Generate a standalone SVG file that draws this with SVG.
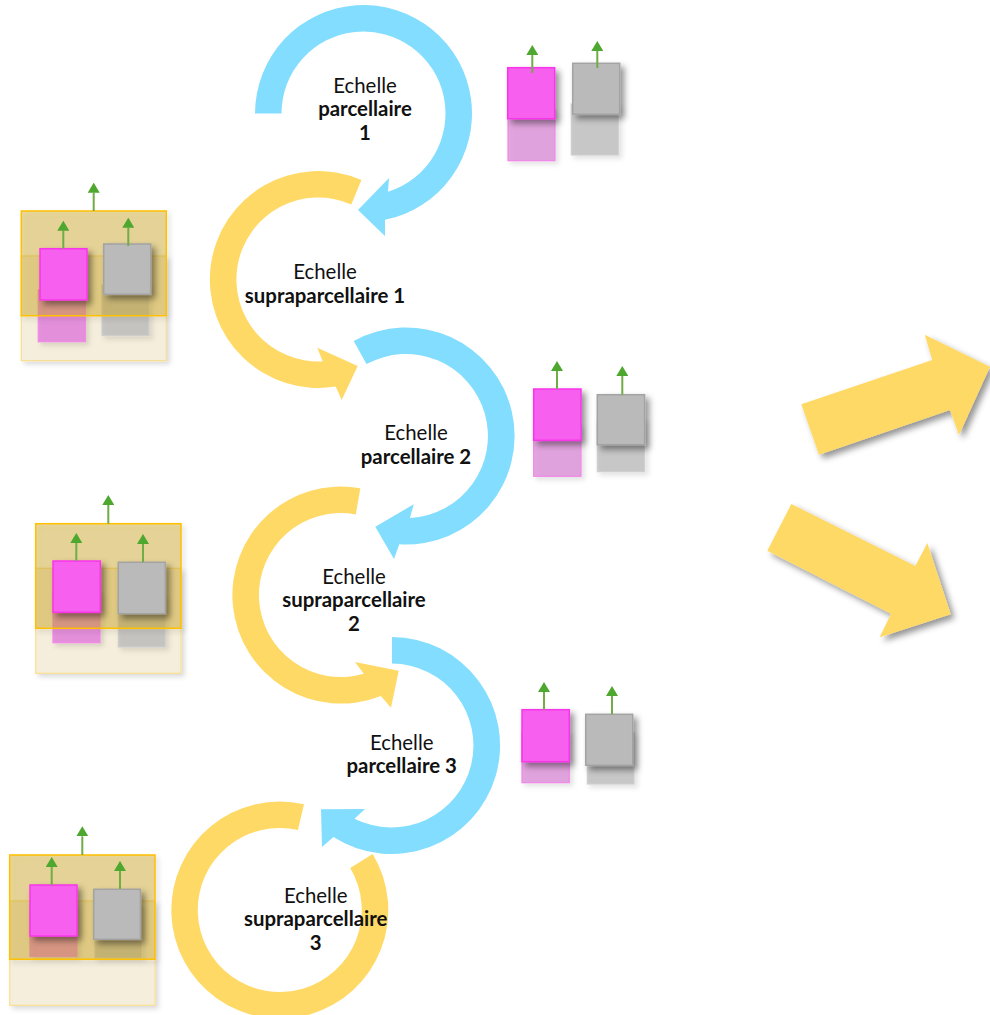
<svg xmlns="http://www.w3.org/2000/svg" width="990" height="1015" viewBox="0 0 990 1015">
<style>
.blue{fill:#83DDFF}
.yellow{fill:#FFD966}
.big-arrow{fill:#FFD966;filter:url(#sh)}
.m{fill:#F75FEE;stroke:#F935EA;stroke-width:1.5;filter:url(#sh)}
.g{fill:#BABABA;stroke:#A3A3A3;stroke-width:1.5;filter:url(#sh)}
.mf{fill:#DB8AD5;fill-opacity:.75;stroke:#F285E8;stroke-width:1.2;filter:url(#shf)}
.mp{fill:#E384DC;fill-opacity:.88;stroke:#F285E8;stroke-width:1.2;filter:url(#shf)}
.gf{fill:#BABABA;fill-opacity:.75;stroke:#CFCFCF;stroke-width:1.2;filter:url(#shf)}
.t{fill:#CAA218;fill-opacity:.42;stroke:#FFC000;stroke-width:1.5;filter:url(#shf)}
.tf{fill:#F5EEDC;stroke:#F9DF90;stroke-width:1.2;filter:url(#shf)}
.up{stroke:#70AD47;stroke-width:2;fill:none;marker-end:url(#head)}
text{font-family:"Lato","Open Sans","Liberation Sans",sans-serif;font-size:20.4px;fill:#111;text-anchor:middle}
.b{font-weight:700}
</style>
<defs>
<filter id="sh" x="-20%" y="-20%" width="150%" height="150%"><feDropShadow dx="4" dy="4" stdDeviation="3" flood-color="#000" flood-opacity=".42"/></filter>
<filter id="shf" x="-20%" y="-20%" width="150%" height="150%"><feDropShadow dx="3" dy="3" stdDeviation="2.5" flood-color="#000" flood-opacity=".14"/></filter>
<marker id="head" markerUnits="userSpaceOnUse" markerWidth="10" markerHeight="12" refX="0" refY="6" orient="auto" viewBox="0 0 10 12"><path d="M0,0L10,6L0,12Z" fill="#4EA72E"/></marker>
</defs>

<g id="arrow-right-up"><path class="big-arrow" d="M801.3,404.3L932.3,360L924.7,334.7L990,366.7L959,435L950,410L819,454.7Z"/></g>
<g id="arrow-right-down"><path class="big-arrow" d="M791.3,504L915.3,566L927.3,543L950.7,614.3L879.7,637.3L891,613.7L767.3,550.7Z"/></g>

<g id="cycle-parcellaire-1"><path class="blue" d="M255,113.5A108.5,108.5 0 1 1 385,219.85L385,236L358,210L389,178L388,191.8A82,82 0 1 0 281.5,113.5Z"/></g>
<g id="cycle-supra-1"><path class="yellow" d="M361.4,179.9A108.5,108.5 0 1 0 335.7,386.6L341.7,400L357.7,366L317.3,347.7L322.7,361.4A82,82 0 1 1 351.3,204.4Z"/></g>
<g id="cycle-parcellaire-2"><path class="blue" d="M353.7,341A108.5,108.5 0 1 1 399.3,544.3L394,559L375.3,526.7L413.7,504.3L410,517.9A82,82 0 1 0 366.5,364.1Z"/></g>
<g id="cycle-supra-2"><path class="yellow" d="M360.3,488.3A108.5,108.5 0 1 0 380.9,695.9L391,707.7L398.7,670.7L355,662L363.8,673.8A82,82 0 1 1 355.8,514.4Z"/></g>
<g id="cycle-parcellaire-3"><path class="blue" d="M392,637A108.5,108.5 0 1 1 333.4,837.1L322,847L321,809.3L365,809L354.5,818.7A82,82 0 1 0 392,663.5Z"/></g>
<g id="cycle-supra-3"><path class="yellow" d="M304,804.3A108.5,108.5 0 1 0 372.7,854L350.2,868A82,82 0 1 1 297.9,830Z"/></g>

<g id="pair-right-1">
<rect class="mf" x="508" y="110" width="47" height="50.7"/><rect class="gf" x="571.3" y="104" width="47" height="51"/>
<rect class="m" x="507.7" y="67.7" width="47" height="51"/><rect class="g" x="572.7" y="63.3" width="47" height="51"/>
</g>
<g id="pair-right-2">
<rect class="mf" x="533.7" y="425" width="47.3" height="51.3"/><rect class="gf" x="597.3" y="420" width="47.3" height="51.7"/>
<rect class="m" x="533.7" y="389" width="47.3" height="51.3"/><rect class="g" x="597.3" y="394.7" width="47.3" height="50"/>
</g>
<g id="pair-right-3">
<rect class="mf" x="522" y="732" width="47.3" height="50.7"/><rect class="gf" x="587.3" y="733" width="46.7" height="51"/>
<rect class="m" x="522" y="709.7" width="47.3" height="52"/><rect class="g" x="585.7" y="714.3" width="47" height="51"/>
</g>
<g id="panel-left-1">
<rect class="tf" x="21.3" y="256" width="145" height="104.7"/>
<rect class="mp" x="38.3" y="290" width="47" height="51.7"/><rect class="gf" x="102" y="285" width="47" height="50.7"/>
<rect class="t" x="21.3" y="211" width="145" height="104.7"/>
<rect class="m" x="40" y="248.7" width="47" height="51.3"/><rect class="g" x="103.7" y="244" width="47" height="50.3"/>
</g>
<g id="panel-left-2">
<rect class="tf" x="35.7" y="568.3" width="145.3" height="105"/>
<rect class="mp" x="53" y="591" width="47" height="51.7"/><rect class="gf" x="118.3" y="596" width="47" height="51"/>
<rect class="t" x="35.7" y="523.7" width="145.3" height="104.6"/>
<rect class="m" x="53" y="561" width="47.3" height="51.3"/><rect class="g" x="118.3" y="562.3" width="47" height="51.4"/>
</g>
<g id="panel-left-3">
<rect class="tf" x="9.7" y="901" width="145.3" height="104.3"/>
<rect class="mp" x="30" y="905" width="47" height="51.3"/><rect class="gf" x="95" y="907" width="46.7" height="51"/>
<rect class="t" x="9.7" y="855" width="145.3" height="104.3"/>
<rect class="m" x="30" y="885" width="47" height="51"/><rect class="g" x="93.7" y="889.3" width="46.7" height="50"/>
</g>

<g id="connectors">
<path class="up" d="M532.3,73V55"/><path class="up" d="M597.3,68V51"/>
<path class="up" d="M557,389V371"/><path class="up" d="M622.3,394.7V376"/>
<path class="up" d="M544,709.7V692"/><path class="up" d="M612,714.3V696"/>
<path class="up" d="M93.7,211V192.7"/><path class="up" d="M63.3,248.7V230.7"/><path class="up" d="M128.3,246V227.7"/>
<path class="up" d="M108.3,523.7V505"/><path class="up" d="M76.3,561V543"/><path class="up" d="M143,562.3V544"/>
<path class="up" d="M82.3,855V836.3"/><path class="up" d="M51.7,885V867"/><path class="up" d="M120,889V871"/>
</g>

<g id="labels">
<text x="365" y="93">Echelle</text><text class="b" x="365" y="116">parcellaire</text><text class="b" x="365" y="140">1</text>
<text x="325" y="279">Echelle</text><text class="b" x="325" y="302.7">supraparcellaire 1</text>
<text x="416" y="440">Echelle</text><text class="b" x="416" y="463.7">parcellaire 2</text>
<text x="354" y="583.7">Echelle</text><text class="b" x="354" y="606.7">supraparcellaire</text><text class="b" x="354" y="631">2</text>
<text x="401.7" y="749.7">Echelle</text><text class="b" x="401.7" y="773">parcellaire 3</text>
<text x="315.7" y="903">Echelle</text><text class="b" x="315.7" y="926">supraparcellaire</text><text class="b" x="315.7" y="950.3">3</text>
</g>
</svg>
